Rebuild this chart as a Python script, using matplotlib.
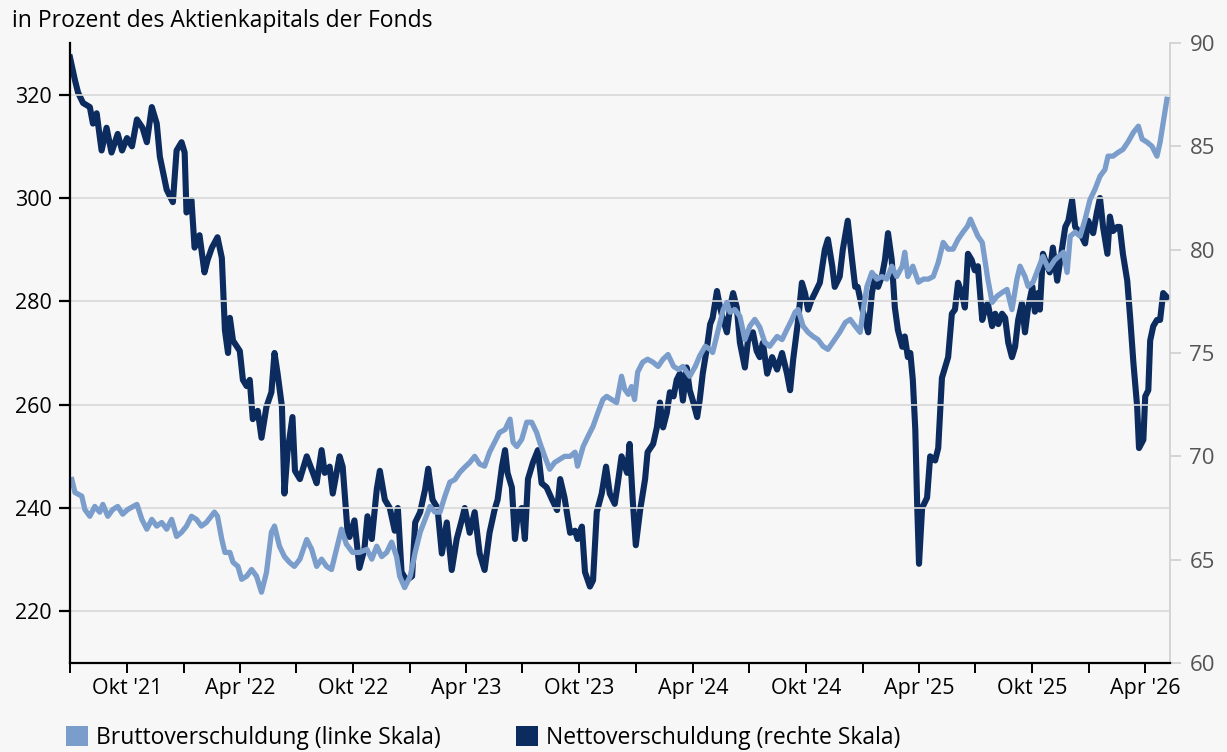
import matplotlib
matplotlib.use("Agg")
import matplotlib.pyplot as plt
import matplotlib.dates as mdates
from matplotlib.patches import Patch
from matplotlib.ticker import FuncFormatter
import pandas as pd

# Nettoverschuldung (rechte Skala)
net_dates = [
    "2021-07-01", "2021-07-09", "2021-07-14", "2021-07-22", "2021-08-02", "2021-08-07", "2021-08-13",
    "2021-08-21", "2021-08-29", "2021-09-06", "2021-09-16", "2021-09-23", "2021-10-01", "2021-10-09",
    "2021-10-17", "2021-10-26", "2021-11-02", "2021-11-10", "2021-11-18", "2021-11-23", "2021-12-04",
    "2021-12-14", "2021-12-20", "2021-12-28", "2022-01-02", "2022-01-05", "2022-01-13", "2022-01-18",
    "2022-01-26", "2022-02-03", "2022-02-08", "2022-02-15", "2022-02-24", "2022-03-03", "2022-03-08",
    "2022-03-13", "2022-03-16", "2022-03-21", "2022-04-01", "2022-04-06", "2022-04-12", "2022-04-17",
    "2022-04-22", "2022-04-30", "2022-05-06", "2022-05-14", "2022-05-22", "2022-05-27", "2022-06-01",
    "2022-06-08", "2022-06-12", "2022-06-17", "2022-06-25", "2022-06-29", "2022-07-07", "2022-07-18",
    "2022-07-28", "2022-08-03", "2022-08-11", "2022-08-16", "2022-08-24", "2022-08-29", "2022-09-09",
    "2022-09-14", "2022-09-22", "2022-09-25", "2022-10-03", "2022-10-11", "2022-10-19", "2022-10-24",
    "2022-10-31", "2022-11-08", "2022-11-13", "2022-11-21", "2022-11-29", "2022-12-07", "2022-12-12",
    "2022-12-18", "2022-12-26", "2023-01-04", "2023-01-09", "2023-01-17", "2023-01-25", "2023-01-30",
    "2023-02-06", "2023-02-14", "2023-02-21", "2023-03-01", "2023-03-09", "2023-03-17", "2023-03-25",
    "2023-03-30", "2023-04-07", "2023-04-15", "2023-04-23", "2023-05-01", "2023-05-09", "2023-05-17",
    "2023-05-22", "2023-05-29", "2023-06-03", "2023-06-07", "2023-06-14", "2023-06-19", "2023-06-24",
    "2023-06-30", "2023-07-05", "2023-07-10", "2023-07-18", "2023-07-26", "2023-08-01", "2023-08-09",
    "2023-08-18", "2023-08-26", "2023-08-31", "2023-09-07", "2023-09-16", "2023-09-24", "2023-09-28",
    "2023-10-05", "2023-10-10", "2023-10-18", "2023-10-23", "2023-10-29", "2023-11-06", "2023-11-13",
    "2023-11-19", "2023-11-27", "2023-12-02", "2023-12-08", "2023-12-17", "2023-12-21", "2023-12-26",
    "2023-12-31", "2024-01-07", "2024-01-15", "2024-01-19", "2024-01-28", "2024-02-03", "2024-02-08",
    "2024-02-13", "2024-02-19", "2024-02-24", "2024-03-01", "2024-03-06", "2024-03-11", "2024-03-16",
    "2024-03-22", "2024-03-27", "2024-04-01", "2024-04-08", "2024-04-12", "2024-04-17", "2024-04-24",
    "2024-04-29", "2024-05-03", "2024-05-10", "2024-05-15", "2024-05-20", "2024-05-26", "2024-05-31",
    "2024-06-05", "2024-06-11", "2024-06-16", "2024-06-24", "2024-06-29", "2024-07-07", "2024-07-13",
    "2024-07-18", "2024-07-23", "2024-07-30", "2024-08-07", "2024-08-15", "2024-08-23", "2024-08-31",
    "2024-09-05", "2024-09-10", "2024-09-18", "2024-09-24", "2024-09-29", "2024-10-04", "2024-10-10",
    "2024-10-15", "2024-10-23", "2024-10-31", "2024-11-05", "2024-11-12", "2024-11-16", "2024-11-24",
    "2024-11-29", "2024-12-07", "2024-12-14", "2024-12-19", "2024-12-23", "2024-12-30", "2025-01-04",
    "2025-01-09", "2025-01-15", "2025-01-20", "2025-01-25", "2025-01-31", "2025-02-05", "2025-02-10",
    "2025-02-16", "2025-02-21", "2025-02-26", "2025-03-05", "2025-03-09", "2025-03-14", "2025-03-18",
    "2025-03-22", "2025-03-26", "2025-03-29", "2025-04-01", "2025-04-06", "2025-04-14", "2025-04-19",
    "2025-04-27", "2025-05-02", "2025-05-08", "2025-05-13", "2025-05-18", "2025-05-24", "2025-05-29",
    "2025-06-03", "2025-06-09", "2025-06-14", "2025-06-19", "2025-06-25", "2025-06-30", "2025-07-05",
    "2025-07-12", "2025-07-17", "2025-07-21", "2025-07-28", "2025-08-02", "2025-08-07", "2025-08-13",
    "2025-08-18", "2025-08-23", "2025-08-29", "2025-09-03", "2025-09-08", "2025-09-14", "2025-09-19",
    "2025-09-24", "2025-10-01", "2025-10-05", "2025-10-10", "2025-10-13", "2025-10-18", "2025-10-25",
    "2025-10-29", "2025-11-03", "2025-11-10", "2025-11-18", "2025-11-23", "2025-11-28", "2025-12-04",
    "2025-12-09", "2025-12-17", "2025-12-25", "2025-12-30", "2026-01-07", "2026-01-13", "2026-01-18",
    "2026-01-23", "2026-01-30", "2026-02-03", "2026-02-08", "2026-02-15", "2026-02-19", "2026-02-24",
    "2026-03-03", "2026-03-08", "2026-03-13", "2026-03-19", "2026-03-22", "2026-03-29", "2026-04-01",
    "2026-04-06", "2026-04-09", "2026-04-14", "2026-04-20", "2026-04-25", "2026-04-30", "2026-05-06",
]
net_vals = [
    89.3, 88.2, 87.6, 87.1, 86.9, 86.1, 86.6, 84.8, 85.9, 84.7, 85.6, 84.8, 85.4, 85.0,
    86.3, 85.9, 85.2, 86.9, 86.1, 84.5, 82.9, 82.3, 84.8, 85.2, 84.7, 81.8, 82.4, 80.1,
    80.7, 78.9, 79.5, 80.1, 80.6, 79.6, 76.1, 75.0, 76.7, 75.6, 75.1, 73.7, 73.4, 73.7,
    71.8, 72.2, 70.9, 72.4, 73.1, 75.0, 74.0, 72.4, 68.2, 70.2, 71.9, 69.3, 68.9, 70.0,
    69.2, 68.7, 70.3, 69.2, 69.5, 68.2, 70.0, 69.5, 66.3, 66.1, 66.9, 64.6, 65.5, 67.1,
    66.0, 68.4, 69.3, 67.9, 67.5, 66.4, 67.5, 64.4, 64.0, 64.2, 66.8, 67.3, 68.4, 69.4,
    67.9, 67.5, 65.3, 66.8, 64.5, 66.0, 66.9, 67.5, 66.3, 67.3, 65.3, 64.5, 66.3, 67.4,
    67.9, 69.5, 70.3, 69.2, 68.5, 66.0, 67.3, 67.5, 66.0, 68.9, 69.7, 70.3, 68.7, 68.5,
    67.9, 67.4, 68.9, 68.0, 66.3, 66.4, 66.0, 66.6, 64.4, 63.7, 64.0, 67.3, 68.2, 69.5,
    68.2, 67.7, 68.7, 70.0, 69.2, 70.6, 67.9, 65.7, 67.4, 68.9, 70.2, 70.6, 71.4, 72.6,
    71.4, 72.1, 73.1, 72.9, 73.7, 74.0, 72.7, 74.3, 73.2, 72.7, 71.9, 72.7, 74.0, 75.3,
    76.4, 76.7, 78.0, 77.2, 76.6, 76.0, 77.2, 77.9, 77.2, 75.5, 74.3, 75.6, 76.0, 75.1,
    74.8, 75.5, 74.0, 74.8, 74.2, 75.0, 74.0, 73.2, 74.7, 76.6, 78.4, 77.9, 77.1, 77.6,
    77.9, 78.4, 80.0, 80.5, 79.2, 78.2, 78.7, 80.0, 81.4, 79.5, 78.2, 78.2, 77.2, 76.6,
    76.0, 77.9, 78.7, 78.2, 78.7, 79.5, 80.8, 79.5, 77.2, 76.1, 75.3, 75.8, 74.8, 75.0,
    73.7, 71.3, 67.7, 64.8, 67.5, 68.0, 70.0, 69.8, 70.4, 73.8, 74.3, 74.8, 76.9, 77.1,
    78.4, 77.9, 77.2, 79.8, 79.5, 79.0, 79.2, 76.6, 77.2, 77.4, 76.3, 76.9, 76.4, 76.9,
    76.7, 75.5, 74.8, 75.3, 76.6, 77.4, 76.0, 77.2, 78.2, 77.0, 77.9, 77.1, 79.8, 79.2,
    78.9, 80.1, 78.5, 80.1, 81.1, 81.4, 82.4, 81.1, 80.8, 80.3, 81.4, 80.8, 81.8, 82.5,
    81.1, 79.8, 81.6, 80.9, 81.1, 81.1, 79.8, 78.5, 76.6, 74.5, 72.4, 70.4, 70.8, 72.9,
    73.2, 75.6, 76.3, 76.6, 76.6, 77.9, 77.7,
]

# Bruttoverschuldung (linke Skala)
gross_dates = [
    "2021-07-04", "2021-07-09", "2021-07-20", "2021-07-25", "2021-08-02", "2021-08-10", "2021-08-18",
    "2021-08-23", "2021-08-31", "2021-09-08", "2021-09-16", "2021-09-24", "2021-10-02", "2021-10-17",
    "2021-10-25", "2021-11-02", "2021-11-10", "2021-11-18", "2021-11-26", "2021-12-04", "2021-12-12",
    "2021-12-20", "2021-12-28", "2022-01-05", "2022-01-13", "2022-01-21", "2022-01-29", "2022-02-06",
    "2022-02-19", "2022-02-24", "2022-03-03", "2022-03-08", "2022-03-16", "2022-03-21", "2022-03-29",
    "2022-04-04", "2022-04-12", "2022-04-20", "2022-04-28", "2022-05-06", "2022-05-14", "2022-05-22",
    "2022-05-27", "2022-06-04", "2022-06-12", "2022-06-20", "2022-06-28", "2022-07-07", "2022-07-18",
    "2022-07-26", "2022-08-03", "2022-08-11", "2022-08-19", "2022-08-27", "2022-09-04", "2022-09-12",
    "2022-09-20", "2022-09-30", "2022-10-11", "2022-10-23", "2022-10-31", "2022-11-08", "2022-11-16",
    "2022-11-24", "2022-12-02", "2022-12-10", "2022-12-15", "2022-12-23", "2023-01-01", "2023-01-09",
    "2023-01-17", "2023-01-25", "2023-02-02", "2023-02-10", "2023-02-18", "2023-02-26", "2023-03-06",
    "2023-03-14", "2023-03-22", "2023-03-30", "2023-04-07", "2023-04-15", "2023-04-23", "2023-05-01",
    "2023-05-09", "2023-05-17", "2023-05-25", "2023-06-03", "2023-06-11", "2023-06-16", "2023-06-22",
    "2023-06-30", "2023-07-08", "2023-07-16", "2023-07-24", "2023-07-29", "2023-08-06", "2023-08-14",
    "2023-08-22", "2023-08-30", "2023-09-07", "2023-09-16", "2023-09-24", "2023-09-28", "2023-10-07",
    "2023-10-15", "2023-10-23", "2023-10-31", "2023-11-08", "2023-11-14", "2023-11-22", "2023-11-30",
    "2023-12-08", "2023-12-13", "2023-12-19", "2023-12-24", "2023-12-29", "2024-01-03", "2024-01-11",
    "2024-01-19", "2024-01-28", "2024-02-05", "2024-02-13", "2024-02-21", "2024-03-01", "2024-03-09",
    "2024-03-16", "2024-03-27", "2024-04-05", "2024-04-12", "2024-04-21", "2024-04-29", "2024-05-03",
    "2024-05-11", "2024-05-20", "2024-05-26", "2024-05-31", "2024-06-08", "2024-06-16", "2024-06-24",
    "2024-07-02", "2024-07-10", "2024-07-18", "2024-07-26", "2024-08-03", "2024-08-15", "2024-08-23",
    "2024-08-31", "2024-09-08", "2024-09-13", "2024-09-18", "2024-09-26", "2024-10-04", "2024-10-12",
    "2024-10-20", "2024-10-28", "2024-11-05", "2024-11-13", "2024-11-24", "2024-12-03", "2024-12-11",
    "2024-12-19", "2024-12-27", "2025-01-01", "2025-01-07", "2025-01-15", "2025-01-23", "2025-01-31",
    "2025-02-08", "2025-02-16", "2025-02-24", "2025-03-05", "2025-03-09", "2025-03-14", "2025-03-22",
    "2025-03-31", "2025-04-08", "2025-04-16", "2025-04-24", "2025-05-02", "2025-05-10", "2025-05-18",
    "2025-05-26", "2025-06-03", "2025-06-11", "2025-06-18", "2025-06-23", "2025-06-28", "2025-07-05",
    "2025-07-12", "2025-07-17", "2025-07-21", "2025-07-28", "2025-08-05", "2025-08-13", "2025-08-21",
    "2025-08-29", "2025-09-06", "2025-09-11", "2025-09-19", "2025-09-24", "2025-10-02", "2025-10-10",
    "2025-10-18", "2025-10-27", "2025-11-06", "2025-11-20", "2025-11-26", "2025-12-01", "2025-12-09",
    "2025-12-17", "2025-12-25", "2026-01-02", "2026-01-10", "2026-01-18", "2026-01-26", "2026-01-31",
    "2026-02-08", "2026-02-16", "2026-02-24", "2026-03-04", "2026-03-13", "2026-03-21", "2026-03-27",
    "2026-04-04", "2026-04-12", "2026-04-20", "2026-04-25", "2026-04-30", "2026-05-06",
]
gross_vals = [
    245.5, 243.0, 242.3, 239.7, 238.4, 240.3, 239.2, 240.7, 238.4, 239.7, 240.3, 238.8, 239.7, 240.7,
    237.8, 235.9, 237.8, 236.5, 237.2, 235.9, 237.8, 234.5, 235.3, 236.5, 238.4, 237.8, 236.5, 237.2,
    239.2, 238.4, 233.9, 231.4, 231.4, 229.5, 228.7, 226.2, 226.8, 228.1, 226.8, 223.7, 227.5, 235.3,
    236.5, 232.6, 230.6, 229.5, 228.7, 230.1, 233.9, 232.0, 228.7, 230.1, 228.7, 228.1, 232.0, 235.9,
    233.0, 231.4, 231.4, 232.0, 230.1, 232.6, 230.6, 231.4, 233.4, 230.6, 226.8, 224.6, 226.8, 231.4,
    235.3, 237.8, 240.3, 239.2, 239.2, 242.3, 245.0, 245.5, 246.9, 247.9, 248.8, 250.0, 248.5, 248.1,
    250.8, 252.7, 254.6, 255.2, 257.2, 252.7, 251.9, 253.3, 256.6, 256.6, 254.6, 252.7, 250.0, 247.5,
    248.8, 249.4, 250.0, 250.0, 250.8, 248.1, 251.9, 253.9, 255.8, 258.5, 261.0, 261.6, 261.0, 260.4,
    265.5, 263.0, 262.0, 263.5, 261.0, 266.3, 268.2, 268.8, 268.2, 267.4, 268.8, 269.7, 267.4, 266.8,
    267.4, 265.5, 267.4, 269.4, 271.3, 270.7, 270.1, 274.0, 278.4, 279.8, 277.9, 278.4, 277.1, 272.6,
    275.2, 276.5, 275.0, 272.1, 271.3, 273.2, 272.6, 274.6, 276.5, 277.9, 278.4, 275.2, 274.0, 273.2,
    272.6, 271.3, 270.7, 272.1, 274.0, 275.9, 276.5, 275.2, 274.0, 278.4, 282.9, 285.6, 284.3, 284.8,
    284.3, 286.8, 284.8, 286.8, 289.5, 284.8, 286.8, 283.7, 284.3, 284.3, 284.8, 287.5, 291.4, 290.1,
    290.1, 292.0, 293.4, 294.5, 295.9, 294.5, 292.6, 291.4, 287.5, 284.3, 279.8, 281.0, 281.7, 282.3,
    278.4, 284.3, 286.8, 284.8, 282.9, 283.7, 286.2, 288.7, 286.2, 288.0, 289.5, 285.6, 292.6, 293.4,
    292.6, 295.9, 299.7, 301.7, 304.2, 305.5, 308.1, 308.1, 308.8, 309.4, 310.8, 312.7, 313.9, 311.4,
    310.8, 310.0, 308.1, 310.8, 314.6, 319.1,
]

left_ticks = [220, 240, 260, 280, 300, 320]
right_ticks = [60, 65, 70, 75, 80, 85, 90]
title = "in Prozent des Aktienkapitals der Fonds"
label_gross = "Bruttoverschuldung (linke Skala)"
label_net = "Nettoverschuldung (rechte Skala)"
month_names = {4: "Apr", 10: "Okt"}

bg = "#f7f7f7"
c_light = "#7a9dcb"
c_dark = "#0c2c5f"
plt.rcParams["font.family"] = ["Open Sans", "DejaVu Sans"]

fig = plt.figure(figsize=(12.27, 7.52), dpi=100, facecolor=bg)
ax = fig.add_axes([70 / 1227, 1 - 663 / 752, 1100 / 1227, 620 / 752])
ax2 = ax.twinx()
ax.set_facecolor(bg)

ax2.plot(pd.to_datetime(net_dates), net_vals, color=c_dark, lw=4.4, solid_joinstyle="round")
ax.plot(pd.to_datetime(gross_dates), gross_vals, color=c_light, lw=3.8, solid_joinstyle="round")
# light line above the dark one
ax.set_zorder(ax2.get_zorder() + 1)
ax.patch.set_visible(False)
ax2.patch.set_facecolor(bg)

ax.set_xlim(pd.Timestamp("2021-07-01"), pd.Timestamp("2026-05-11"))
ax.set_ylim(210, 330)
ax2.set_ylim(60, 90)
ax.set_yticks(left_ticks)
ax2.set_yticks(right_ticks)
ax.grid(axis="y", color="#d8d8d8", lw=1.2)
ax2.grid(False)


def fmt_month(v, pos):
    d = mdates.num2date(v)
    if d.month in month_names:
        return month_names[d.month] + " '" + d.strftime("%y")
    return ""


ax.xaxis.set_major_locator(mdates.MonthLocator(bymonth=[1, 4, 7, 10]))
ax.xaxis.set_major_formatter(FuncFormatter(fmt_month))

ax.spines["top"].set_visible(False)
ax2.spines["top"].set_visible(False)
ax.spines["right"].set_visible(False)
ax2.spines["left"].set_visible(False)
ax2.spines["bottom"].set_visible(False)
ax.spines["left"].set_linewidth(1.6)
ax.spines["bottom"].set_linewidth(1.6)
ax2.spines["right"].set_color("#cfcfcf")
ax2.spines["right"].set_linewidth(1.2)

ax.tick_params(axis="x", length=7, width=1.4, color="black", labelsize=15.5, pad=4)
ax.tick_params(axis="y", length=8, width=1.6, color="black", labelsize=15.5, pad=5)
ax2.tick_params(axis="y", length=8, width=1.2, color="#cfcfcf", labelcolor="#555555", labelsize=16, pad=6)

fig.text(12 / 1227, 1 - 21 / 752, title, fontsize=16.5, va="center", ha="left")

handles = [Patch(facecolor=c_light, edgecolor="none"), Patch(facecolor=c_dark, edgecolor="none")]
fig.legend(handles, [label_gross, label_net], loc="center left", bbox_to_anchor=(66 / 1227, 1 - 738 / 752),
           ncol=2, frameon=False, fontsize=16.5, handlelength=0.95, handleheight=1.0,
           handletextpad=0.35, columnspacing=3.3, borderpad=0, borderaxespad=0)

fig.savefig("out.png", dpi=100, facecolor=bg)
